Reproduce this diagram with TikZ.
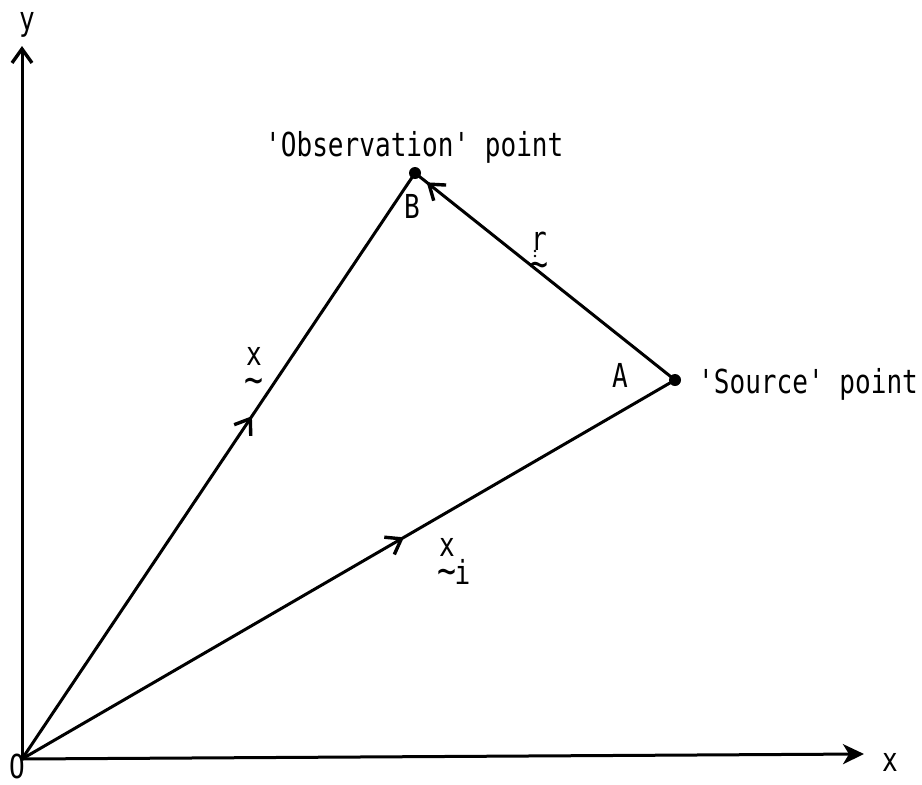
\documentclass[tikz,border=0pt]{standalone}
\usepackage{fontspec}
\newfontfamily\tw[FakeStretch=0.79,Ligatures=TeXOff]{DejaVu Sans Mono}
\usetikzlibrary{arrows.meta,decorations.markings}
\tikzset{
  vbarb/.tip={Straight Barb[length=14pt,width=20pt,line width=3.4pt]},
  xhead/.tip={Stealth[length=21pt,width=20pt,inset=6pt]},
}
\newcommand{\tld}{{\fontsize{40}{40}\selectfont\textasciitilde}}
\begin{document}
\begin{tikzpicture}[x=1pt,y=-1pt,
  vec/.style={line width=3pt},
  lbl/.style={font=\tw\fontsize{33}{36}\selectfont, inner sep=0pt},
  vlbl/.style={lbl, align=center, anchor=north},
  dotn/.style={circle,fill,inner sep=0pt,minimum size=12pt},
  midarrow/.style={postaction={decorate},
    decoration={markings, mark=at position #1 with {\arrow{vbarb}}}}]
\useasboundingbox (0,0) rectangle (922,785);
\coordinate (O) at (22,759);
\coordinate (Y) at (22,46);
\coordinate (X) at (864,754);
\node[dotn] (B) at (415,173) {};
\node[dotn] (A) at (675,380) {};

\draw[vec,-{vbarb}] (O) -- (Y);
\draw[vec,-{xhead}] (O) -- (X);
\draw[vec,midarrow=0.585] (O) -- (B.center);
\draw[vec,midarrow=0.585] (O) -- (A.center);
\draw[vec,midarrow=0.955] (A.center) -- (B.center);

\node[lbl,anchor=base] (ly) at (27,30) {y};
\node[lbl,anchor=base] (lx) at (890,771) {x};
\node[lbl,anchor=base] (lO) at (17,778) {O};
\node[lbl,anchor=base] (lB) at (412,218) {B};
\node[lbl,anchor=base] (lA) at (620,387) {A};
\node[lbl,anchor=base west] (tobs) at (265,156) {'Observation' point};
\node[lbl,anchor=base west] (tsrc) at (698,393) {'Source' point};

\node[vlbl] (vx) at (254,347) {x\\[-8pt]\tld};
\node[vlbl] (vxi) at (447,538) {x\\[-8pt]\tld\rlap{\kern-2pt i}};
\node[vlbl] (vr) at (539,232) {r\\[-9pt]\tld};
\fill (535,251) circle (1.4pt) (535,256) circle (1.4pt);
\end{tikzpicture}
\end{document}
